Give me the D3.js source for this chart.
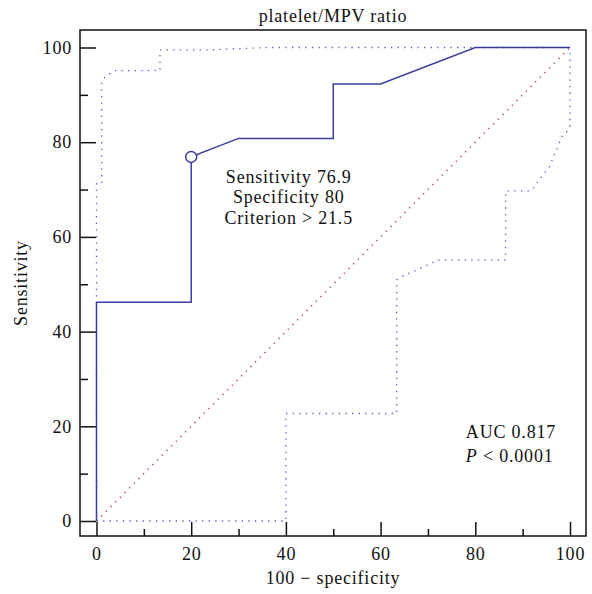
<!DOCTYPE html>
<html>
<head>
<meta charset="utf-8">
<script src="https://cdn.jsdelivr.net/npm/d3@7"></script>
<style>
  body { margin: 0; background: #fff; }
  text { font-family: "Liberation Serif", "DejaVu Serif", serif; fill: #111; letter-spacing: 0.8px; }
</style>
</head>
<body>
<div id="roc"></div>
<script>
// ROC curve (100 - specificity, sensitivity)
const rocX = [0, 0, 20, 20, 30, 50, 50, 60, 80, 100];
const rocY = [0, 46.2, 46.2, 76.9, 80.8, 80.8, 92.3, 92.3, 100, 100];

// confidence bounds (dotted)
const upperX = [0, 0, 1.1, 1.1, 1.8, 3.1, 4, 13.4, 13.4, 23, 30, 37, 100];
const upperY = [0, 71.2, 71.2, 92.8, 93.8, 94.7, 95.1, 95.1, 99.5, 99.5, 99.75, 100, 100];
const lowerX = [0, 40, 40, 63.4, 63.4, 64.4, 65.7, 67, 68.3, 69.5, 70.8, 72.1, 86.4, 86.4, 91.5, 92.4, 93.2, 94.9, 95.8, 96.3, 96.8, 97.4, 97.9, 98.5, 99.3, 100, 100];
const lowerY = [0, 0, 22.7, 22.7, 50.9, 51.6, 52.2, 52.7, 53.3, 53.9, 54.5, 55.1, 55.1, 69.7, 69.7, 70.4, 71.7, 73.9, 75, 76.4, 77.7, 78.9, 80.3, 81.5, 82.2, 83.1, 100];

const criterionPoint = [20, 76.9];
const criterionText = ["Sensitivity 76.9", "Specificity 80", "Criterion > 21.5"];

const majorTicks = [0, 20, 40, 60, 80, 100];
const minorTicks = [10, 30, 50, 70, 90];

const titleText = "platelet/MPV ratio";
const xLabel = "100 \u2212 specificity";
const yLabel = "Sensitivity";

function rocPlot() {
  const width = 592;
  const height = 594;
  const frame = { left: 80, top: 30, right: 586, bottom: 536 };
  const fontSize = '18px';

  const svg = d3.select('#roc')
    .append('svg')
    .attr('width', width)
    .attr('height', height);

  const x = d3.scaleLinear().domain([0, 100]).range([96.5, 570]);
  const y = d3.scaleLinear().domain([0, 100]).range([521, 47.5]);

  const line = d3.line().x(d => x(d[0])).y(d => y(d[1]));

  // axes, ticks pointing inward
  svg.append('g')
    .attr('transform', `translate(0,${frame.bottom})`)
    .call(d3.axisBottom(x).tickValues(majorTicks).tickSizeInner(-14).tickSizeOuter(0).tickPadding(11));
  svg.append('g')
    .attr('transform', `translate(0,${frame.bottom})`)
    .call(d3.axisBottom(x).tickValues(minorTicks).tickSizeInner(-7).tickSizeOuter(0).tickFormat(''));

  svg.append('g')
    .attr('transform', `translate(${frame.left},0)`)
    .call(d3.axisLeft(y).tickValues(majorTicks).tickSizeInner(-16).tickSizeOuter(0).tickPadding(8));
  svg.append('g')
    .attr('transform', `translate(${frame.left},0)`)
    .call(d3.axisLeft(y).tickValues(minorTicks).tickSizeInner(-8).tickSizeOuter(0).tickFormat(''));

  svg.selectAll('.domain').remove();
  svg.selectAll('.tick line').attr('stroke', '#111').attr('stroke-width', 1.5);
  svg.selectAll('.tick text')
    .style('font-family', '"Liberation Serif", serif')
    .style('font-size', fontSize)
    .attr('fill', '#111');

  // frame
  svg.append('rect')
    .attr('x', frame.left)
    .attr('y', frame.top)
    .attr('width', frame.right - frame.left)
    .attr('height', frame.bottom - frame.top)
    .attr('fill', 'none')
    .attr('stroke', '#111')
    .attr('stroke-width', 1.5);

  // diagonal reference
  svg.append('path')
    .attr('d', line([[0, 0], [100, 100]]))
    .attr('fill', 'none')
    .attr('stroke', '#a83434')
    .attr('stroke-width', 1.3)
    .attr('stroke-dasharray', '1.3,5.3');

  // confidence bounds
  const bands = [d3.zip(upperX, upperY), d3.zip(lowerX, lowerY)];
  svg.selectAll('.band')
    .data(bands)
    .enter()
    .append('path')
    .attr('class', 'band')
    .attr('d', line)
    .attr('fill', 'none')
    .attr('stroke', '#5656c4')
    .attr('stroke-width', 1.3)
    .attr('stroke-dasharray', '1.3,5.3');

  // ROC curve
  svg.append('path')
    .attr('d', line(d3.zip(rocX, rocY)))
    .attr('fill', 'none')
    .attr('stroke', '#3a3d9c')
    .attr('stroke-width', 1.5);

  svg.append('circle')
    .attr('cx', x(criterionPoint[0]))
    .attr('cy', y(criterionPoint[1]))
    .attr('r', 5.5)
    .attr('fill', '#fff')
    .attr('stroke', '#3a3d9c')
    .attr('stroke-width', 1.5);

  // annotations
  svg.selectAll('.crit')
    .data(criterionText)
    .enter()
    .append('text')
    .attr('class', 'crit')
    .attr('x', x(40.6))
    .attr('y', (d, i) => y(71.4) + i * 20.5)
    .attr('text-anchor', 'middle')
    .style('font-size', fontSize)
    .text(d => d);

  svg.append('text')
    .attr('x', x(78))
    .attr('y', y(17.5))
    .style('font-size', fontSize)
    .text('AUC 0.817');

  const pText = svg.append('text')
    .attr('x', x(78))
    .attr('y', y(12.5))
    .style('font-size', fontSize);
  pText.append('tspan').style('font-style', 'italic').text('P');
  pText.append('tspan').text(' < 0.0001');

  // titles
  svg.append('text')
    .attr('x', (frame.left + frame.right) / 2)
    .attr('y', 21.5)
    .attr('text-anchor', 'middle')
    .style('font-size', fontSize)
    .text(titleText);

  svg.append('text')
    .attr('x', (frame.left + frame.right) / 2)
    .attr('y', 584)
    .attr('text-anchor', 'middle')
    .style('font-size', fontSize)
    .text(xLabel);

  svg.append('text')
    .attr('transform', `translate(27,${(frame.top + frame.bottom) / 2}) rotate(-90)`)
    .attr('text-anchor', 'middle')
    .style('font-size', fontSize)
    .text(yLabel);
}

window.onload = function () {
  rocPlot();
};
</script>
</body>
</html>
